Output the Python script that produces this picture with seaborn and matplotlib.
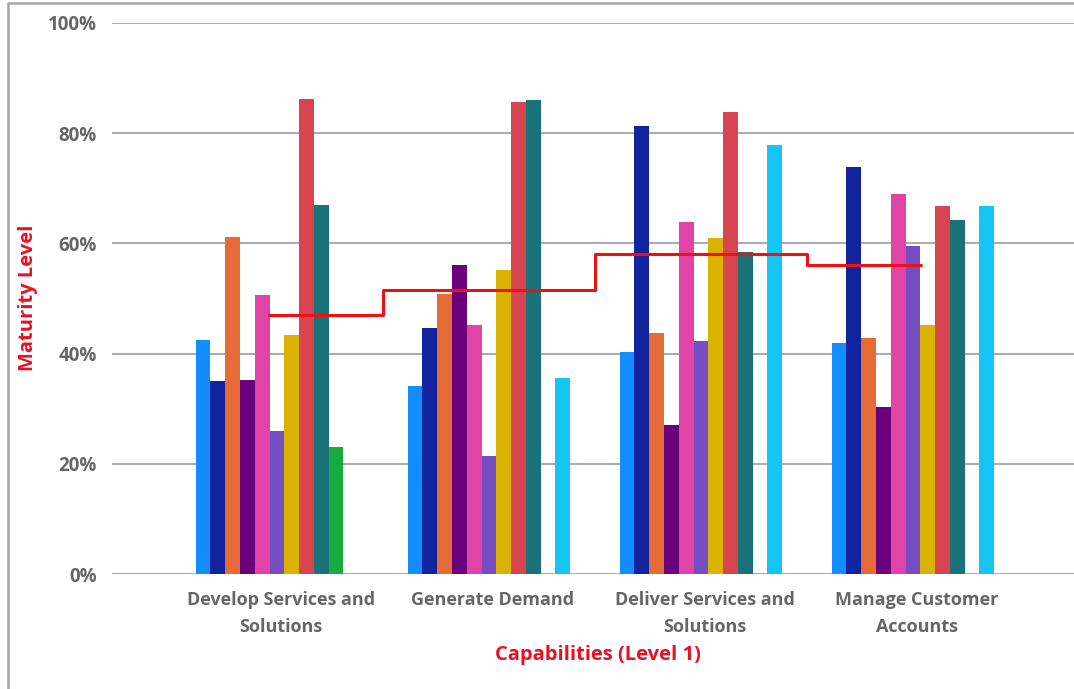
import numpy as np
import pandas as pd
import matplotlib
matplotlib.use("Agg")
import matplotlib.pyplot as plt
from matplotlib.lines import Line2D
from matplotlib.transforms import ScaledTranslation
import seaborn as sns

# Capability areas (x categories)
capabilities = ["Develop Services and\nSolutions", "Generate Demand",
                "Deliver Services and\nSolutions", "Manage Customer\nAccounts"]

# Maturity scores (%) per business unit; NaN = no assessment
unit_names = ["Unit 1", "Unit 2", "Unit 3", "Unit 4", "Unit 5", "Unit 6",
              "Unit 7", "Unit 8", "Unit 9", "Unit 10", "Unit 11"]
unit_1 = [42.5, 34.1, 40.3, 41.9]
unit_2 = [35.0, 44.6, 81.3, 73.8]
unit_3 = [61.2, 50.8, 43.7, 42.9]
unit_4 = [35.2, 56.0, 27.1, 30.3]
unit_5 = [50.6, 45.2, 63.8, 69.0]
unit_6 = [26.0, 21.5, 42.3, 59.5]
unit_7 = [43.4, 55.2, 60.9, 45.2]
unit_8 = [86.2, 85.7, 83.8, 66.7]
unit_9 = [67.0, 86.0, 58.4, 64.2]
unit_10 = [23.1, np.nan, np.nan, np.nan]
unit_11 = [np.nan, 35.6, 77.8, 66.7]

# Average maturity per capability (step line)
average_level = [47.0, 51.5, 58.0, 56.1]

unit_colors = ["#118DFF", "#12239E", "#E66C37", "#6B007B", "#E044A7", "#744EC2",
               "#D9B300", "#D64550", "#197278", "#1AAB40", "#15C6F4"]

series = [unit_1, unit_2, unit_3, unit_4, unit_5, unit_6,
          unit_7, unit_8, unit_9, unit_10, unit_11]
rows = []
for name, vals in zip(unit_names, series):
    for cap, v in zip(capabilities, vals):
        rows.append({"capability": cap, "unit": name, "level": v})
df = pd.DataFrame(rows)

sns.set_theme(style="white")
plt.rcParams["font.family"] = ["Open Sans", "DejaVu Sans"]

W, H = 1074, 689
fig = plt.figure(figsize=(W / 100, H / 100), dpi=100)
ax = fig.add_axes([112 / W, (H - 574) / H, (W - 112) / W, 551 / H])

sns.barplot(data=df, x="capability", y="level", hue="unit",
            order=capabilities, hue_order=unit_names,
            palette=unit_colors, saturation=1, width=0.7665, linewidth=0,
            errorbar=None, legend=False, ax=ax, zorder=2)

# Average step line across capabilities
ext = 0.038
xs = [-ext] + list(range(len(capabilities))) + [len(capabilities) - 1 + ext]
ys = [average_level[0]] + average_level + [average_level[-1]]
ax.step(xs, ys, where="mid", color="#F01010", linewidth=2.2, zorder=3)

ax.set_ylim(0, 100)
x_left = -0.778
ax.set_xlim(x_left, x_left + (W - 112) / 212)
ax.set_yticks([0, 20, 40, 60, 80, 100])
ax.set_yticklabels(["0%", "20%", "40%", "60%", "80%", "100%"])
ax.yaxis.grid(True, color="#A7AAB0", linewidth=1.4, zorder=0)
ax.set_axisbelow(True)
for s in ax.spines.values():
    s.set_visible(False)
ax.tick_params(axis="y", length=0, pad=11, labelsize=13.5, labelcolor="#666666")
ax.tick_params(axis="x", length=0, pad=12, labelsize=13, labelcolor="#666666")
for lbl in ax.get_yticklabels() + ax.get_xticklabels():
    lbl.set_fontweight("bold")
shift = ScaledTranslation(4 / 100, 0, fig.dpi_scale_trans)
for lbl in ax.get_xticklabels():
    lbl.set_linespacing(1.65)
    lbl.set_transform(lbl.get_transform() + shift)
ax.set_xlabel("")
ax.set_ylabel("")

fig.text(598 / W, (H - 655) / H, "Capabilities (Level 1)", color="#E81123",
         fontsize=14.5, fontweight="bold", ha="center", va="center")
fig.text(28 / W, (H - 298) / H, "Maturity Level", color="#E81123",
         fontsize=14.5, fontweight="bold", ha="center", va="center", rotation=90)

# Frame lines on the left and top edges
fig.add_artist(Line2D([8 / W, 8 / W], [0, (H - 3) / H], color="#A6A6A6",
                      linewidth=1.8, transform=fig.transFigure))
fig.add_artist(Line2D([8 / W, 1], [(H - 3) / H, (H - 3) / H], color="#A6A6A6",
                      linewidth=1.8, transform=fig.transFigure))

fig.savefig("out.png", dpi=100, facecolor="white")
